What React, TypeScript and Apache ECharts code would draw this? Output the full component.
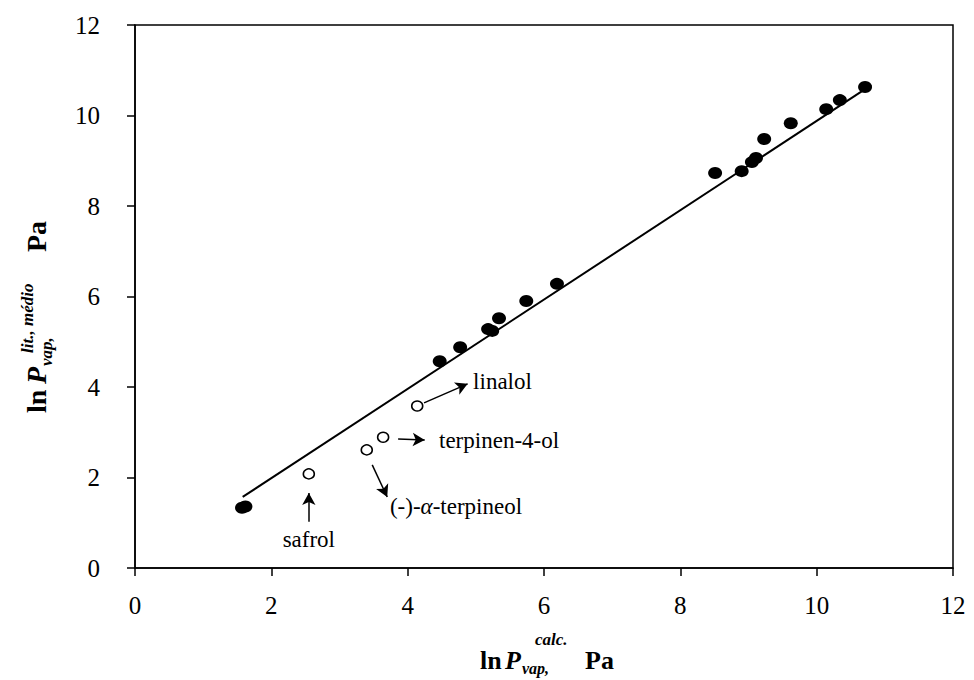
import React, { useEffect, useRef } from "react";
import * as echarts from "echarts";

// Measured compounds (filled) – ln P_vap calc. vs ln P_vap literature mean
const filledX = [1.57, 1.62, 4.47, 4.77, 5.18, 5.24, 5.34, 5.74, 6.19, 8.51, 8.9, 9.05, 9.11, 9.23, 9.62, 10.14, 10.34, 10.71];
const filledY = [1.33, 1.36, 4.57, 4.88, 5.28, 5.24, 5.52, 5.9, 6.28, 8.73, 8.77, 8.97, 9.06, 9.48, 9.83, 10.14, 10.34, 10.63];

// Outliers (open circles)
const openX = [2.55, 3.4, 3.64, 4.14];
const openY = [2.08, 2.61, 2.89, 3.58];

// Regression line end points
const fitX = [1.58, 10.8];
const fitY = [1.57, 10.67];

// Annotation texts with their anchor point and arrow (tail -> head)
const noteNames = ["safrol", "(-)-{i|α}-terpineol", "terpinen-4-ol", "linalol"];
const noteX = [2.55, 3.74, 4.46, 4.96];
const noteY = [0.62, 1.35, 2.81, 4.13];
const arrowFrom = [[2.55, 1.02], [3.48, 2.28], [3.86, 2.85], [4.24, 3.65]];
const arrowTo = [[2.55, 1.66], [3.7, 1.57], [4.25, 2.83], [4.88, 4.07]];

const axisTicks = { min: 0, max: 12, interval: 2 };

const FONT = "'Liberation Serif', 'Times New Roman', serif";

export default function App() {
  const ref = useRef<HTMLDivElement>(null);

  useEffect(() => {
    if (!ref.current) return;
    const chart = echarts.init(ref.current, null, { renderer: "svg" });

    const txt = (text: string, x: number, y: number, size: number, weight: string, style: string) => ({
      type: "text",
      x,
      y,
      style: {
        text,
        fontFamily: FONT,
        fontSize: size,
        fontWeight: weight,
        fontStyle: style,
        fill: "#000",
        align: "left",
        verticalAlign: "middle",
        textAlign: "left",
        textVerticalAlign: "middle",
      },
    });

    const axisCommon = {
      type: "value" as const,
      ...axisTicks,
      axisLine: { show: true, lineStyle: { color: "#000", width: 1.5 } },
      axisTick: { show: true, inside: false, length: 8, lineStyle: { color: "#000", width: 1.5 } },
      splitLine: { show: false },
    };

    chart.setOption({
      animation: false,
      backgroundColor: "#fff",
      grid: {
        left: 135,
        right: 21,
        top: 25,
        bottom: 112,
        show: true,
        borderColor: "#000",
        borderWidth: 1.5,
        backgroundColor: "transparent",
      },
      xAxis: {
        ...axisCommon,
        axisLabel: { color: "#000", fontFamily: FONT, fontSize: 25, margin: 25 },
      },
      yAxis: {
        ...axisCommon,
        axisLabel: { color: "#000", fontFamily: FONT, fontSize: 25, margin: 35 },
      },
      series: [
        {
          type: "line",
          data: fitX.map((x, i) => [x, fitY[i]]),
          symbol: "none",
          lineStyle: { color: "#000", width: 2 },
          z: 2,
        },
        {
          type: "scatter",
          data: filledX.map((x, i) => [x, filledY[i]]),
          symbol: "circle",
          symbolSize: [14, 12],
          itemStyle: { color: "#000", opacity: 1 },
          z: 3,
        },
        {
          type: "scatter",
          data: openX.map((x, i) => [x, openY[i]]),
          symbol: "circle",
          symbolSize: [11, 10],
          itemStyle: { color: "#fff", borderColor: "#000", borderWidth: 1.5, opacity: 1 },
          z: 3,
        },
        {
          type: "scatter",
          data: noteNames.map((n, i) => ({
            name: n,
            value: [noteX[i], noteY[i]],
            label: {
              position: i === 0 ? "inside" : "right",
              distance: 0,
            },
          })),
          symbolSize: 0,
          silent: true,
          itemStyle: { opacity: 1 },
          label: {
            show: true,
            formatter: (p: any) => p.name,
            color: "#000",
            fontFamily: FONT,
            fontSize: 23,
            rich: {
              i: { fontFamily: FONT, fontSize: 23, fontStyle: "italic", color: "#000" },
            },
          },
          markLine: {
            silent: true,
            symbol: ["none", "arrow"],
            symbolSize: [10, 12],
            label: { show: false },
            lineStyle: { color: "#000", width: 1.5, type: "solid", opacity: 1 },
            data: arrowFrom.map((f, i) => [{ coord: f }, { coord: arrowTo[i] }]),
          },
          z: 4,
        },
      ],
      graphic: [
        {
          type: "group",
          x: 480,
          y: 660,
          children: [
            txt("ln", 0, 0, 26, "bold", "normal"),
            txt("P", 25, 0, 26, "bold", "italic"),
            txt("vap,", 42, 8, 16, "bold", "italic"),
            txt("calc.", 55, -21, 17, "bold", "italic"),
            txt("Pa", 105, 0, 26, "bold", "normal"),
          ],
        },
        {
          type: "group",
          x: 36,
          y: 413,
          rotation: Math.PI / 2,
          children: [
            txt("ln", 0, 0, 28, "bold", "normal"),
            txt("P", 29, 0, 28, "bold", "italic"),
            txt("vap,", 47, 10, 17, "bold", "italic"),
            txt("lit., médio", 60, -9, 17, "bold", "italic"),
            txt("Pa", 161, 0, 28, "bold", "normal"),
          ],
        },
      ],
    });

    return () => chart.dispose();
  }, []);

  return (
    <div
      ref={ref}
      style={{ position: "fixed", left: 0, top: 0, width: 974, height: 680 }}
    />
  );
}
